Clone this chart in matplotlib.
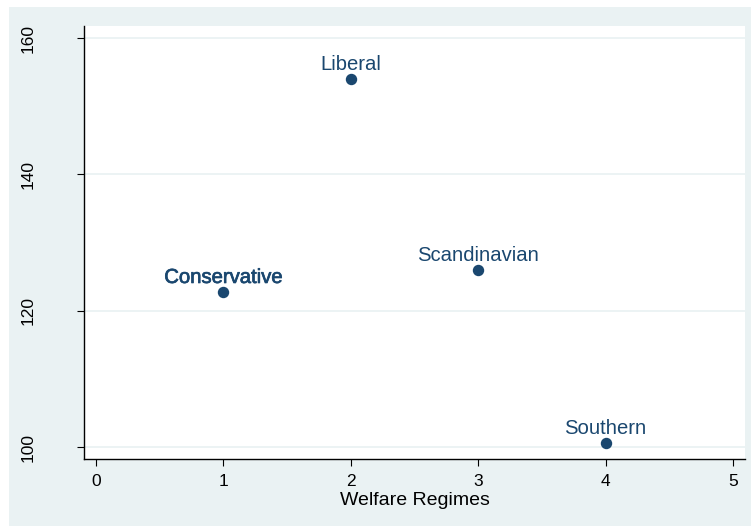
import matplotlib
matplotlib.use("Agg")
import matplotlib.pyplot as plt
import matplotlib.patheffects as pe
from matplotlib.patches import Rectangle

regimes = ["Conservative", "Liberal", "Scandinavian", "Southern"]
regime_code = [1, 2, 3, 4]
values = [122.8, 154.0, 126.0, 100.7]
bold_labels = ["Conservative"]  # several overlapping labels in the original

x_ticks = [0, 1, 2, 3, 4, 5]
y_ticks = [100, 120, 140, 160]

navy = "#1A476F"
bg = "#EAF2F3"

plt.rcParams["font.family"] = ["Liberation Sans", "DejaVu Sans"]

fig = plt.figure(figsize=(7.51, 5.26), dpi=100, facecolor="white")
# Stata-style outer background panel
fig.patches.append(Rectangle((9 / 751, 0), 742 / 751, 519 / 526,
                             transform=fig.transFigure, facecolor=bg,
                             edgecolor="none", zorder=-1))

ax = fig.add_axes([84 / 751, 67 / 526, 661 / 751, 433 / 526])
ax.set_facecolor("white")

for y in y_ticks:
    ax.axhline(y, color=bg, linewidth=1.3, zorder=0)

ax.plot(regime_code, values, "o", color=navy, markersize=7.2, zorder=3)

for name, xv, yv in zip(regimes, regime_code, values):
    t = ax.annotate(name, (xv, yv), xytext=(0, 3.5), textcoords="offset points",
                    ha="center", va="bottom", fontsize=14.6, color=navy)
    if name in bold_labels:
        t.set_path_effects([pe.withStroke(linewidth=0.5, foreground=navy)])

ax.set_xlim(-0.094, 5.094)
ax.set_ylim(98.3, 161.76)
ax.set_xticks(x_ticks)
ax.set_yticks(y_ticks)
ax.set_yticklabels([str(v) for v in y_ticks], rotation=90, va="center")
ax.tick_params(axis="y", length=5, width=0.8, pad=30, labelsize=12.5)
ax.tick_params(axis="x", length=5, width=0.8, pad=6, labelsize=12.5)
ax.set_xlabel("Welfare Regimes", fontsize=14, labelpad=2)

for s in ["top", "right"]:
    ax.spines[s].set_visible(False)
for s in ["left", "bottom"]:
    ax.spines[s].set_linewidth(1.0)

fig.savefig("out.png", dpi=100, facecolor=fig.get_facecolor())
